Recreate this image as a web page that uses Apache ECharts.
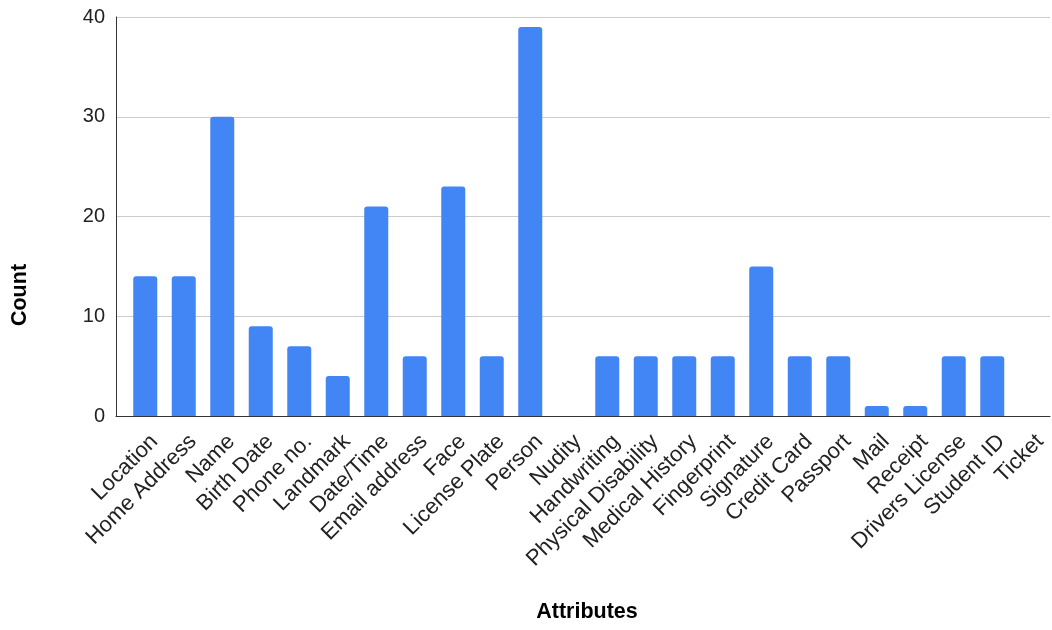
<!DOCTYPE html>
<html>
<head>
<meta charset="utf-8">
<script src="https://cdn.jsdelivr.net/npm/echarts@6/dist/echarts.min.js"></script>
<style>
  html, body { margin: 0; padding: 0; background: #fff; }
  #chart { width: 1052px; height: 630px; }
</style>
</head>
<body>
<div id="chart"></div>
<script>
// Attribute categories and their counts
const categories = [
  'Location', 'Home Address', 'Name', 'Birth Date', 'Phone no.', 'Landmark',
  'Date/Time', 'Email address', 'Face', 'License Plate', 'Person', 'Nudity',
  'Handwriting', 'Physical Disability', 'Medical History', 'Fingerprint',
  'Signature', 'Credit Card', 'Passport', 'Mail', 'Receipt', 'Drivers License',
  'Student ID', 'Ticket'
];
const counts = [14, 14, 30, 9, 7, 4, 21, 6, 23, 6, 39, 0, 6, 6, 6, 6, 15, 6, 6, 1, 1, 6, 6, 0];
const yTicks = [0, 10, 20, 30, 40];

const FONT = '"Liberation Sans", Arial, sans-serif';
const yMin = yTicks[0], yMax = yTicks[yTicks.length - 1];
const yStep = yTicks[1] - yTicks[0];

const chart = echarts.init(document.getElementById('chart'));
chart.setOption({
  animation: false,
  backgroundColor: '#fff',
  grid: [
    // frame: value axis, gridlines and baseline
    { left: 116, right: 2, top: 17, bottom: 214 },
    // bars and category labels
    { left: 126, right: 2, top: 17, bottom: 214 }
  ],
  xAxis: [
    {
      gridIndex: 0, type: 'value', min: 0, max: 1,
      axisLine: { show: true, onZero: false, lineStyle: { color: '#333', width: 1 } },
      axisTick: { show: false }, axisLabel: { show: false }, splitLine: { show: false }
    },
    {
      gridIndex: 1, type: 'category', data: categories, boundaryGap: true,
      axisLine: { show: false }, axisTick: { show: false },
      axisLabel: {
        interval: 0, rotate: 45, margin: 13,
        verticalAlign: 'top', lineHeight: 26,
        color: '#222', fontFamily: FONT, fontSize: 22
      }
    }
  ],
  yAxis: [
    {
      gridIndex: 0, type: 'value', min: yMin, max: yMax, interval: yStep,
      axisLine: { show: true, lineStyle: { color: '#333', width: 1 } },
      axisTick: { show: false },
      axisLabel: { margin: 11, color: '#222', fontFamily: FONT, fontSize: 20 },
      splitLine: { show: true, lineStyle: { color: '#ccc', width: 1 } }
    },
    {
      gridIndex: 1, type: 'value', min: yMin, max: yMax, interval: yStep, show: false
    }
  ],
  series: [{
    type: 'bar',
    xAxisIndex: 1, yAxisIndex: 1,
    data: counts,
    barWidth: 24,
    itemStyle: { color: '#4285F4', borderRadius: [3, 3, 0, 0] }
  }],
  graphic: [
    {
      type: 'text', x: 20, y: 295, rotation: Math.PI / 2,
      style: {
        text: 'Count', font: 'bold 21.5px ' + FONT, fill: '#000',
        align: 'center', verticalAlign: 'middle'
      }
    },
    {
      type: 'text', x: 587, y: 612,
      style: {
        text: 'Attributes', font: 'bold 21.5px ' + FONT, fill: '#000',
        align: 'center', verticalAlign: 'middle'
      }
    }
  ]
});
</script>
</body>
</html>
